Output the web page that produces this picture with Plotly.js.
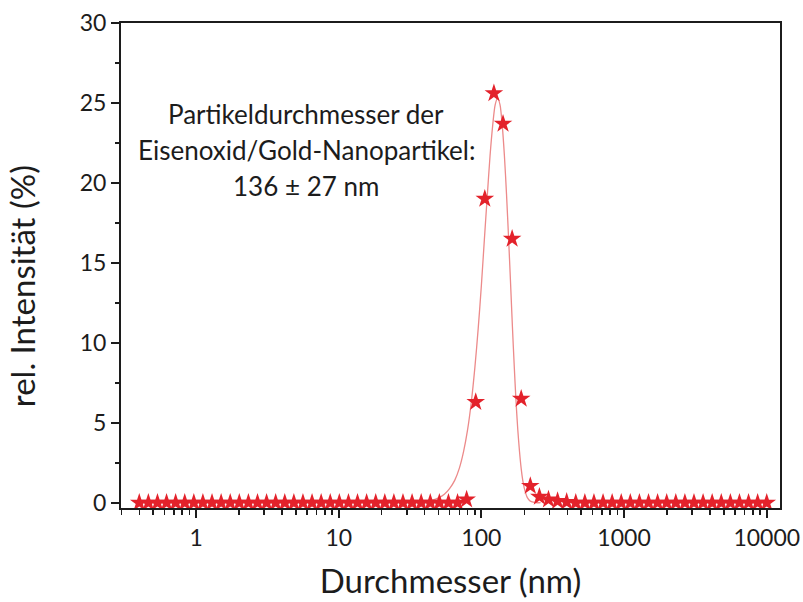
<!DOCTYPE html>
<html>
<head>
<meta charset="utf-8">
<script src="https://cdn.plot.ly/plotly-3.0.1.min.js"></script>
<style>
  html, body { margin: 0; padding: 0; background: #ffffff; }
  #chart { width: 803px; height: 602px; }
</style>
</head>
<body>
<div id="chart"></div>
<script>
// DLS size classes (nm) of the instrument
const sizeClasses = [
  0.4000, 0.4632, 0.5365, 0.6213, 0.7195, 0.8332, 0.9649, 1.117, 1.294, 1.499,
  1.736, 2.010, 2.328, 2.696, 3.122, 3.615, 4.187, 4.849, 5.615, 6.503,
  7.531, 8.721, 10.10, 11.70, 13.54, 15.69, 18.17, 21.04, 24.36, 28.21,
  32.67, 37.84, 43.82, 50.75, 58.77, 68.06, 78.82, 91.28, 105.7, 122.4,
  141.8, 164.2, 190.1, 220.2, 255.0, 295.3, 342.0, 396.1, 458.7, 531.2,
  615.1, 712.4, 825.0, 955.4, 1106, 1281, 1484, 1718, 1990, 2305,
  2669, 3091, 3580, 4145, 4801, 5560, 6439, 7456, 8635, 10000
];

// relative intensity per size class (%)
const intensity = [
  0, 0, 0, 0, 0, 0, 0, 0, 0, 0,
  0, 0, 0, 0, 0, 0, 0, 0, 0, 0,
  0, 0, 0, 0, 0, 0, 0, 0, 0, 0,
  0, 0, 0, 0, 0, 0, 0.2, 6.3, 19.0, 25.6,
  23.7, 16.5, 6.5, 1.05, 0.37, 0.2, 0.1, 0.05, 0, 0,
  0, 0, 0, 0, 0, 0, 0, 0, 0, 0,
  0, 0, 0, 0, 0, 0, 0, 0, 0, 0
];

// fitted distribution curve
const fitDiameter = [
  30, 40, 45, 50, 55, 60, 65, 70, 75, 80,
  85, 90, 95, 100, 105, 110, 115, 120, 125, 130,
  135, 140, 145, 150, 155, 160, 165, 170, 175, 180,
  185, 190, 195, 200, 210, 220, 240, 260
];
const fitIntensity = [
  0, 0.05, 0.15, 0.3, 0.53, 0.9, 1.4, 2.15, 3.2, 4.55,
  6.3, 8.45, 10.9, 13.6, 16.5, 19.2, 21.7, 23.6, 24.9, 25.3,
  24.9, 23.6, 21.7, 19.3, 16.6, 13.8, 11.0, 8.5, 6.3, 4.55,
  3.2, 2.15, 1.4, 0.9, 0.32, 0.1, 0.01, 0
];

const noteLines = [
  'Partikeldurchmesser der',
  'Eisenoxid/Gold-Nanopartikel:',
  '136 ± 27 nm'
];

const FONT = 'Lato, "Open Sans", sans-serif';
const INK = '#1c1c1c';

const traces = [
  {
    x: fitDiameter,
    y: fitIntensity,
    type: 'scatter',
    mode: 'lines',
    line: { color: '#ec8a8a', width: 1.3, shape: 'spline', smoothing: 0.8 },
    hoverinfo: 'skip',
    showlegend: false
  },
  {
    x: sizeClasses,
    y: intensity,
    type: 'scatter',
    mode: 'markers',
    marker: { symbol: 'star', size: 14, color: '#e3222b', line: { width: 0 } },
    showlegend: false
  }
];

const noteY = [0.812, 0.738, 0.664];
const annotations = noteLines.map((t, i) => ({
  text: t,
  xref: 'paper', yref: 'paper',
  x: 0.281, y: noteY[i],
  xanchor: 'center', yanchor: 'middle',
  showarrow: false,
  font: { family: FONT, size: 26, color: INK }
}));

// y-axis title, set slightly below the axis centre
annotations.push({
  text: 'rel. Intensität (%)',
  xref: 'paper', yref: 'paper',
  x: -0.149, y: 0.457,
  xanchor: 'center', yanchor: 'middle',
  textangle: -90,
  showarrow: false,
  font: { family: FONT, size: 33, color: INK }
});

const layout = {
  width: 803,
  height: 602,
  margin: { l: 121, r: 23, t: 23, b: 94 },
  paper_bgcolor: '#ffffff',
  plot_bgcolor: '#ffffff',
  showlegend: false,
  xaxis: {
    type: 'log',
    range: [-0.526, 4.093],
    dtick: 1,
    tickformat: 'd',
    showgrid: false,
    zeroline: false,
    showline: true,
    linecolor: INK,
    linewidth: 2,
    mirror: true,
    ticks: 'outside',
    ticklen: 8,
    tickwidth: 2,
    tickcolor: INK,
    minor: { ticks: 'outside', ticklen: 5, tickwidth: 1.5, tickcolor: INK, dtick: 'D1', showgrid: false },
    tickfont: { family: FONT, size: 23, color: INK },
    title: { text: 'Durchmesser (nm)', font: { family: FONT, size: 33, color: INK }, standoff: 20 }
  },
  yaxis: {
    range: [-0.33, 30],
    dtick: 5,
    showgrid: false,
    zeroline: false,
    showline: true,
    linecolor: INK,
    linewidth: 2,
    mirror: true,
    ticks: 'outside',
    ticklen: 8,
    tickwidth: 2,
    tickcolor: INK,
    minor: { ticks: 'outside', ticklen: 4, tickwidth: 1.5, tickcolor: INK, dtick: 2.5, showgrid: false },
    tickfont: { family: FONT, size: 23, color: INK }
  },
  annotations: annotations
};

Plotly.newPlot('chart', traces, layout, { displayModeBar: false, staticPlot: true });
</script>
</body>
</html>
